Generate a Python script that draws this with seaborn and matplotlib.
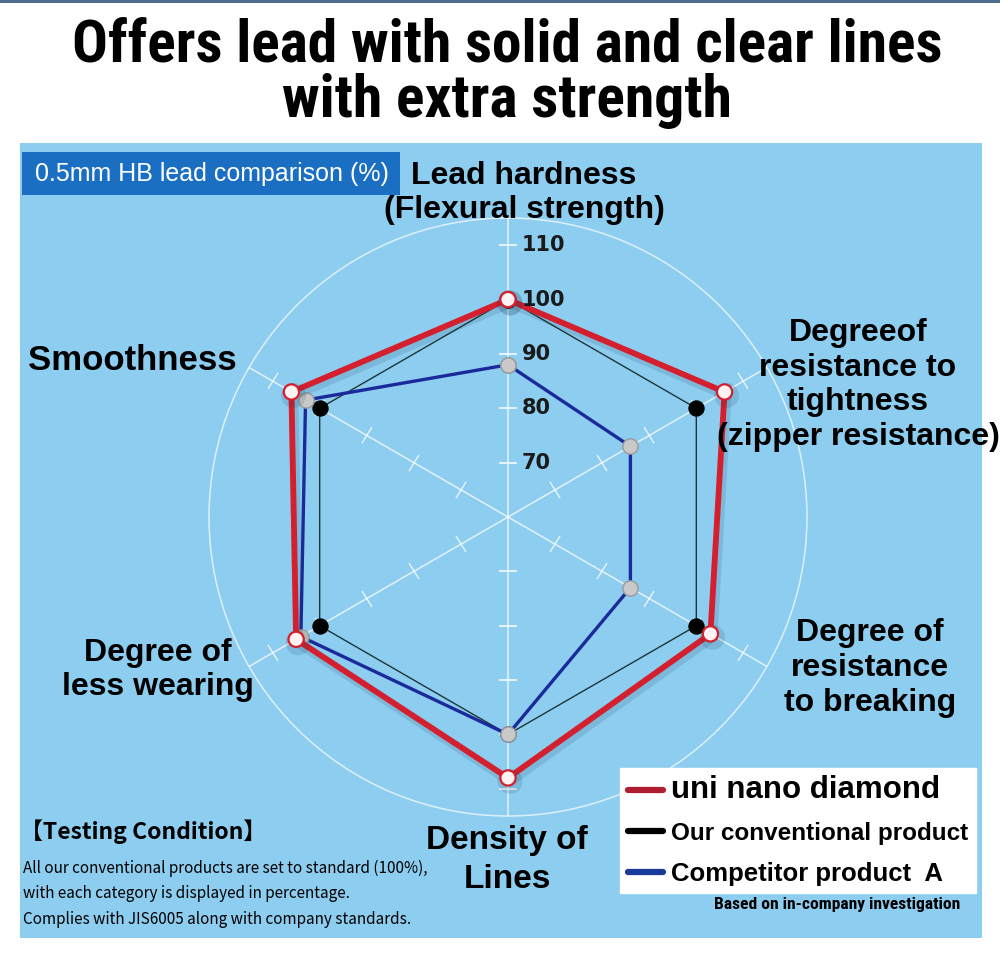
import numpy as np
import matplotlib
matplotlib.use("Agg")
import matplotlib.pyplot as plt
import seaborn as sns
from matplotlib import font_manager
from matplotlib.markers import MarkerStyle
from matplotlib.transforms import Affine2D, offset_copy
from matplotlib.lines import Line2D
from matplotlib.patches import Rectangle
import matplotlib.patheffects as pe

# data
categories = ["Lead hardness\n(Flexural strength)",
              "Degreeof\nresistance to\ntightness\n(zipper resistance)",
              "Degree of\nresistance\nto breaking",
              "Density of\nLines",
              "Degree of\nless wearing",
              "Smoothness"]
series_names = ["uni nano diamond", "Our conventional product", "Competitor product  A"]
uni_nano = [100, 106, 103, 108, 105, 106]
conventional = [100, 100, 100, 100, 100, 100]
competitor = [88, 86, 86, 100, 104, 103]
r_ticks = [70, 80, 90, 100, 110]
r_tick_labels = ["70", "80", "90", "100", "110"]

# layout of the category labels (pixel centres), sizes and line spacing
label_pos = [(524, 193), (858, 385), (870, 668), (507, 860), (158, 670), (132, 360)]
label_size = [23, 23, 23, 24, 23, 25]
label_ls = [1.2, 1.2, 1.2, 1.3, 1.2, 1.2]

W, H = 1000, 956


def fx(x):
    return x / W


def fy(y):
    return 1 - y / H


sns.set_theme(style="white")
plt.rcParams["font.family"] = ["Liberation Sans", "DejaVu Sans"]
plt.rcParams["text.color"] = "black"

# pick a narrow bold face for the title if one is installed
installed = {f.name for f in font_manager.fontManager.ttflist}
narrow = "Liberation Sans"
for cand in ["Liberation Sans Narrow", "Roboto Condensed", "Archivo Narrow",
             "PT Sans Narrow", "Arimo"]:
    if cand in installed:
        narrow = cand
        break

fig = plt.figure(figsize=(W / 100, H / 100), dpi=100)
fig.patch.set_facecolor("white")
renderer = fig.canvas.get_renderer()


def fit_width(txt, target):
    # scale a text so that it is `target` pixels wide
    w = txt.get_window_extent(renderer).width
    txt.set_fontsize(txt.get_fontsize() * target / w)


# background panel
fig.add_artist(Rectangle((fx(20), fy(938)), (982 - 20) / W, (938 - 143) / H,
                         transform=fig.transFigure, facecolor="#8dcdf0",
                         edgecolor="none", zorder=0))
fig.add_artist(Rectangle((0, fy(3)), 1, 3 / H, transform=fig.transFigure,
                         facecolor="#4d6b8a", edgecolor="none", zorder=0))
# header box
fig.add_artist(Rectangle((fx(22), fy(195)), (400 - 22) / W, (195 - 152) / H,
                         transform=fig.transFigure, facecolor="#1a6fc2",
                         edgecolor="none", zorder=1))
fig.text(fx(35), fy(174), "0.5mm HB lead comparison (%)", color="white",
         fontsize=18, ha="left", va="center", zorder=2)

# title
t1 = fig.text(fx(507), fy(46), "Offers lead with solid and clear lines", ha="center",
              va="center", fontsize=40, fontweight="bold", family=[narrow, "DejaVu Sans"])
fit_width(t1, 870)
fig.text(fx(507), fy(101), "with extra strength", ha="center", va="center",
         fontsize=t1.get_fontsize(), fontweight="bold", family=[narrow, "DejaVu Sans"])

# radar axes: centre at (508, 517), r=60 at centre, 115 at edge
ax = fig.add_axes([fx(508 - 299), fy(517 + 299), 598 / W, 598 / H], projection="polar")
ax.set_facecolor("none")
ax.set_theta_zero_location("N")
ax.set_theta_direction(-1)

n = len(categories)
theta = np.linspace(0, 2 * np.pi, n, endpoint=False)
theta_closed = np.append(theta, theta[0])

ax.set_thetagrids(np.degrees(theta), labels=[""] * n)
ax.xaxis.grid(True, color="white", lw=1.1, alpha=0.75)
ax.yaxis.grid(False)
ax.set_yticks(r_ticks)
ax.set_yticklabels([])
ax.spines["polar"].set_color("white")
ax.spines["polar"].set_alpha(0.7)
ax.spines["polar"].set_linewidth(1.1)

# little cross ticks on each spoke
for t in theta:
    m = MarkerStyle("_", transform=Affine2D().rotate_deg(-np.degrees(t)))
    ax.plot([t] * len(r_ticks), r_ticks, ls="none", marker=m, ms=13, mew=1.1,
            color="white", alpha=0.75, zorder=2)

sns.lineplot(x=theta_closed, y=conventional + conventional[:1], sort=False,
             estimator=None, ax=ax, color="#1f3535", lw=1.0, marker="o", ms=11,
             mfc="black", mec="black", zorder=3)
sns.lineplot(x=theta_closed, y=competitor + competitor[:1], sort=False,
             estimator=None, ax=ax, color="#1a2a9a", lw=2.4, marker="o", ms=11,
             mfc="#c9c9c9", mec="#9a9a9a", mew=1.0, zorder=4)
sns.lineplot(x=theta_closed, y=uni_nano + uni_nano[:1], sort=False,
             estimator=None, ax=ax, color="#d4202e", lw=4.2, marker="o", ms=11,
             mfc="#fff2f2", mec="#d4202e", mew=1.6, zorder=5,
             path_effects=[pe.SimpleLineShadow(offset=(1.5, -2.5), shadow_color="#10304a",
                                               alpha=0.13, linewidth=7), pe.Normal()])

ax.set_ylim(60, 115)
ax.set_xlabel("")
ax.set_ylabel("")

lab_tr = offset_copy(ax.transData, fig=fig, x=14, y=0, units="dots")
for r, s in zip(r_ticks, r_tick_labels):
    ax.text(0, r, s, transform=lab_tr, ha="left", va="center", fontsize=15,
            fontweight="bold", family="DejaVu Sans", color="#1a1a1a", zorder=6)

# category labels
for lab, (x, y), s, ls in zip(categories, label_pos, label_size, label_ls):
    fig.text(fx(x), fy(y), lab, ha="center", va="center", multialignment="center",
             fontsize=s, fontweight="bold", linespacing=ls, color="black")

# legend
handles = [Line2D([], [], color="#b01c30", lw=4.5),
           Line2D([], [], color="black", lw=4.5),
           Line2D([], [], color="#1a3a9a", lw=4.5)]
leg = fig.legend(handles, series_names, loc="upper left",
                 bbox_to_anchor=(fx(620), fy(768)), frameon=True, fancybox=False,
                 framealpha=1, facecolor="white", edgecolor="white",
                 prop={"size": 18, "weight": "bold"}, handlelength=1.4,
                 handletextpad=0.35, borderpad=0.3, labelspacing=0.66,
                 borderaxespad=0)
leg.get_texts()[0].set_fontsize(22.5)
leg.get_texts()[1].set_fontsize(17.5)
leg.get_texts()[2].set_fontsize(18.5)

b = fig.text(fx(960), fy(905), "Based on in-company investigation", ha="right",
             va="center", fontsize=10.5, fontweight="bold", family=[narrow, "DejaVu Sans"])
fit_width(b, 247)

# testing condition note
cjk = ["Noto Sans CJK JP", "DejaVu Sans"]
fig.text(fx(20), fy(832), "【Testing Condition】", ha="left", va="center",
         fontsize=16.5, fontweight="bold", family=cjk)
note = ["All our conventional products are set to standard (100%),",
        "with each category is displayed in percentage.",
        "Complies with JIS6005 along with company standards."]
for i, line in enumerate(note):
    fig.text(fx(23), fy(868 + 25.5 * i), line, ha="left", va="center",
             fontsize=11, family=cjk)

fig.savefig("out.png", dpi=100)
